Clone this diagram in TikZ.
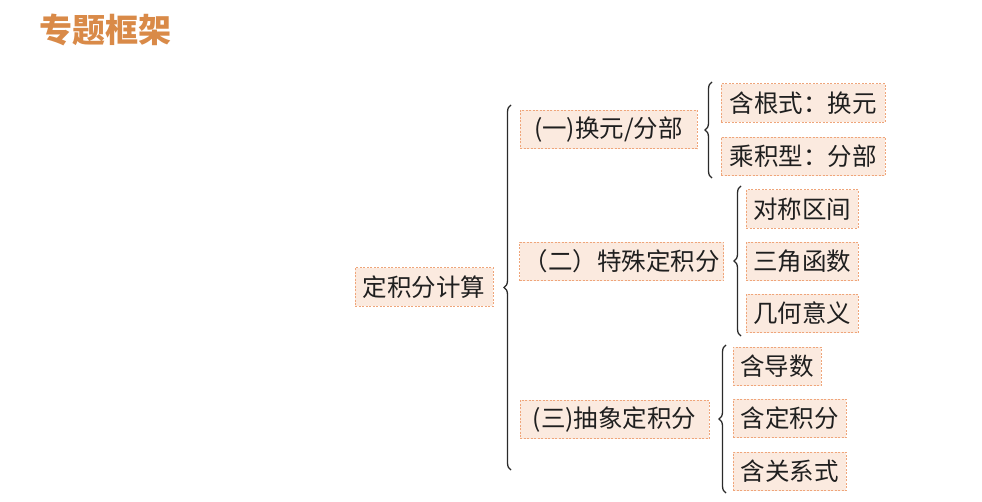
\documentclass[tikz,border=0pt]{standalone}
\usepackage{fontspec}
\setmainfont{Noto Sans CJK SC}
\newfontfamily\cjk{Noto Sans CJK SC}
\usetikzlibrary{decorations.pathreplacing}
\definecolor{boxfill}{HTML}{FBEADF}
\definecolor{boxline}{HTML}{EFA57A}
\definecolor{titlec}{HTML}{D98A48}
\definecolor{bracec}{HTML}{2A2A2A}
\tikzset{
  itembox/.style={draw=boxline, fill=boxfill, dash pattern=on 2pt off 1.5pt, line width=0.8pt,
    font=\cjk\fontsize{24.5}{27}\selectfont, text=black!88, inner xsep=4pt, minimum height=38.5pt, anchor=center},
  bracepath/.style={decorate, decoration={brace, amplitude=7pt, aspect=0.5}, draw=bracec, line width=1.3pt},
}
\begin{document}
\begin{tikzpicture}[x=1pt,y=-1pt]
\useasboundingbox (0,0) rectangle (982,502);
\fill[white] (0,0) rectangle (982,502);
% title
\node[font=\cjk\bfseries\fontsize{33}{35}\selectfont, text=titlec, anchor=center] (title) at (105,30) {专题框架};
% nodes
\node[itembox, minimum width=138pt] (root) at (424,287) {定积分计算};
\node[itembox, minimum width=177pt] (a) at (608.5,129.5) {(一)换元/分部};
\node[itembox, minimum width=203pt] (b) at (621.5,261.5) {（二）特殊定积分};
\node[itembox, minimum width=189pt] (c) at (614.5,419.5) {(三)抽象定积分};
\node[itembox, minimum width=164pt] (a1) at (803,103) {含根式：换元};
\node[itembox, minimum width=164pt] (a2) at (803,156.5) {乘积型：分部};
\node[itembox, minimum width=112pt] (b1) at (802,209) {对称区间};
\node[itembox, minimum width=112pt] (b2) at (802,261.5) {三角函数};
\node[itembox, minimum width=112pt] (b3) at (802,313.5) {几何意义};
\node[itembox, minimum width=88pt] (c1) at (777,366.5) {含导数};
\node[itembox, minimum width=113pt] (c2) at (789.5,418.5) {含定积分};
\node[itembox, minimum width=113pt] (c3) at (789.5,471.5) {含关系式};
% brace coordinates
\coordinate (r0) at (511,470);
\coordinate (r1) at (511,105);
\coordinate (a0) at (712,178);
\coordinate (a9) at (712,82);
\coordinate (b0) at (741,336);
\coordinate (b9) at (741,186);
\coordinate (c0) at (726,493);
\coordinate (c9) at (726,345);
\draw[bracepath] (r0) -- (r1);
\draw[bracepath] (a0) -- (a9);
\draw[bracepath] (b0) -- (b9);
\draw[bracepath] (c0) -- (c9);
\end{tikzpicture}
\end{document}
